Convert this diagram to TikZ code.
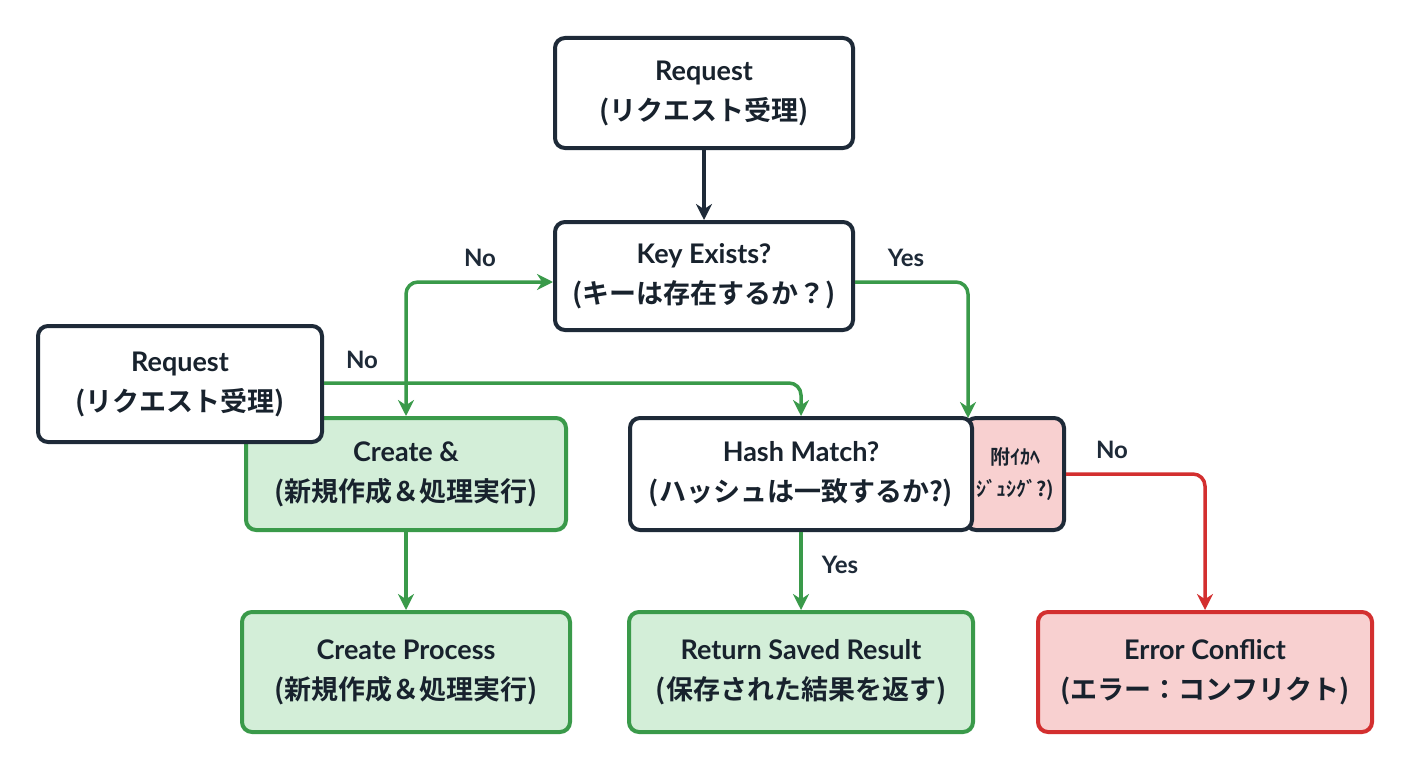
\documentclass[tikz,border=0pt]{standalone}
\usepackage{fontspec}
\setmainfont{Lato}[UprightFont=* Bold,BoldFont=* Bold]
\newfontfamily\cjk{Noto Sans CJK JP}[UprightFont=* Bold,BoldFont=* Bold]
\usetikzlibrary{arrows.meta}
\definecolor{navy}{HTML}{1E2A38}
\definecolor{gline}{HTML}{3A9A4A}
\definecolor{gfill}{HTML}{D3EED8}
\definecolor{rline}{HTML}{D32F2F}
\definecolor{rfill}{HTML}{F8D0D0}
\begin{document}
\begin{tikzpicture}[x=1pt,y=-1pt,
  box/.style={draw=navy,line width=4pt,rounded corners=10pt,fill=white,align=center,font=\fontsize{27}{40}\selectfont,inner sep=0pt,text=navy!80!black},
  gbox/.style={box,draw=gline,fill=gfill},
  rbox/.style={box,draw=rline,fill=rfill},
  arr/.style={line width=3.5pt,-{Stealth[length=16pt,width=16pt]},rounded corners=12pt},
  lab/.style={font=\fontsize{24}{28}\selectfont,text=navy}]
\useasboundingbox (0,0) rectangle (1408,768);
\fill[white] (0,0) rectangle (1408,768);
\node[box,minimum width=298pt,minimum height=110pt] (req) at (704,93) {Request\\{\cjk (リクエスト受理)}};
\node[box,minimum width=298pt,minimum height=108pt] (key) at (704,276) {Key Exists?\\{\cjk (キーは存在するか？)}};
\node[gbox,minimum width=320pt,minimum height=112pt] (ca) at (406,474) {Create \&\\{\cjk (新規作成＆処理実行)}};
\node[box,minimum width=284pt,minimum height=116pt] (req2) at (180,384) {Request\\{\cjk (リクエスト受理)}};
\node[rbox,draw=navy,minimum width=98pt,minimum height=112pt,font=\fontsize{20}{32}\selectfont] (rb) at (1015,474) {{\cjk 附ｲｶﾍ}\\{\cjk ｼﾞｭｼｸﾞ?)}};
\node[box,minimum width=342pt,minimum height=112pt] (hash) at (801,474) {Hash Match?\\{\cjk (ハッシュは一致するか?)}};
\node[gbox,minimum width=328pt,minimum height=120pt] (cp) at (406,672) {Create Process\\{\cjk (新規作成＆処理実行)}};
\node[gbox,minimum width=344pt,minimum height=120pt] (ret) at (801,672) {Return Saved Result\\{\cjk (保存された結果を返す)}};
\node[rbox,minimum width=334pt,minimum height=120pt] (err) at (1205,672) {Error Conflict\\{\cjk (エラー：コンフリクト)}};
\draw[arr,draw=navy] (req) -- (key);
\draw[arr,draw=gline,{Stealth[length=16pt,width=16pt]}-{Stealth[length=16pt,width=16pt]}] (key.west |- 0,282) -| (ca.north);
\draw[arr,draw=gline] (req2.east |- 0,383) -| (hash.north);
\draw[arr,draw=gline] (key.east |- 0,282) -| (968,418);
\draw[arr,draw=gline] (ca) -- (cp);
\draw[arr,draw=gline] (hash.south) -- (ret.north);
\draw[arr,draw=rline] (rb.east) -| (err.north);
\node[lab] at (480,258) {No};
\node[lab] at (362,360) {No};
\node[lab] at (906,258) {Yes};
\node[lab] at (840,565) {Yes};
\node[lab] at (1112,450) {No};
\end{tikzpicture}
\end{document}
